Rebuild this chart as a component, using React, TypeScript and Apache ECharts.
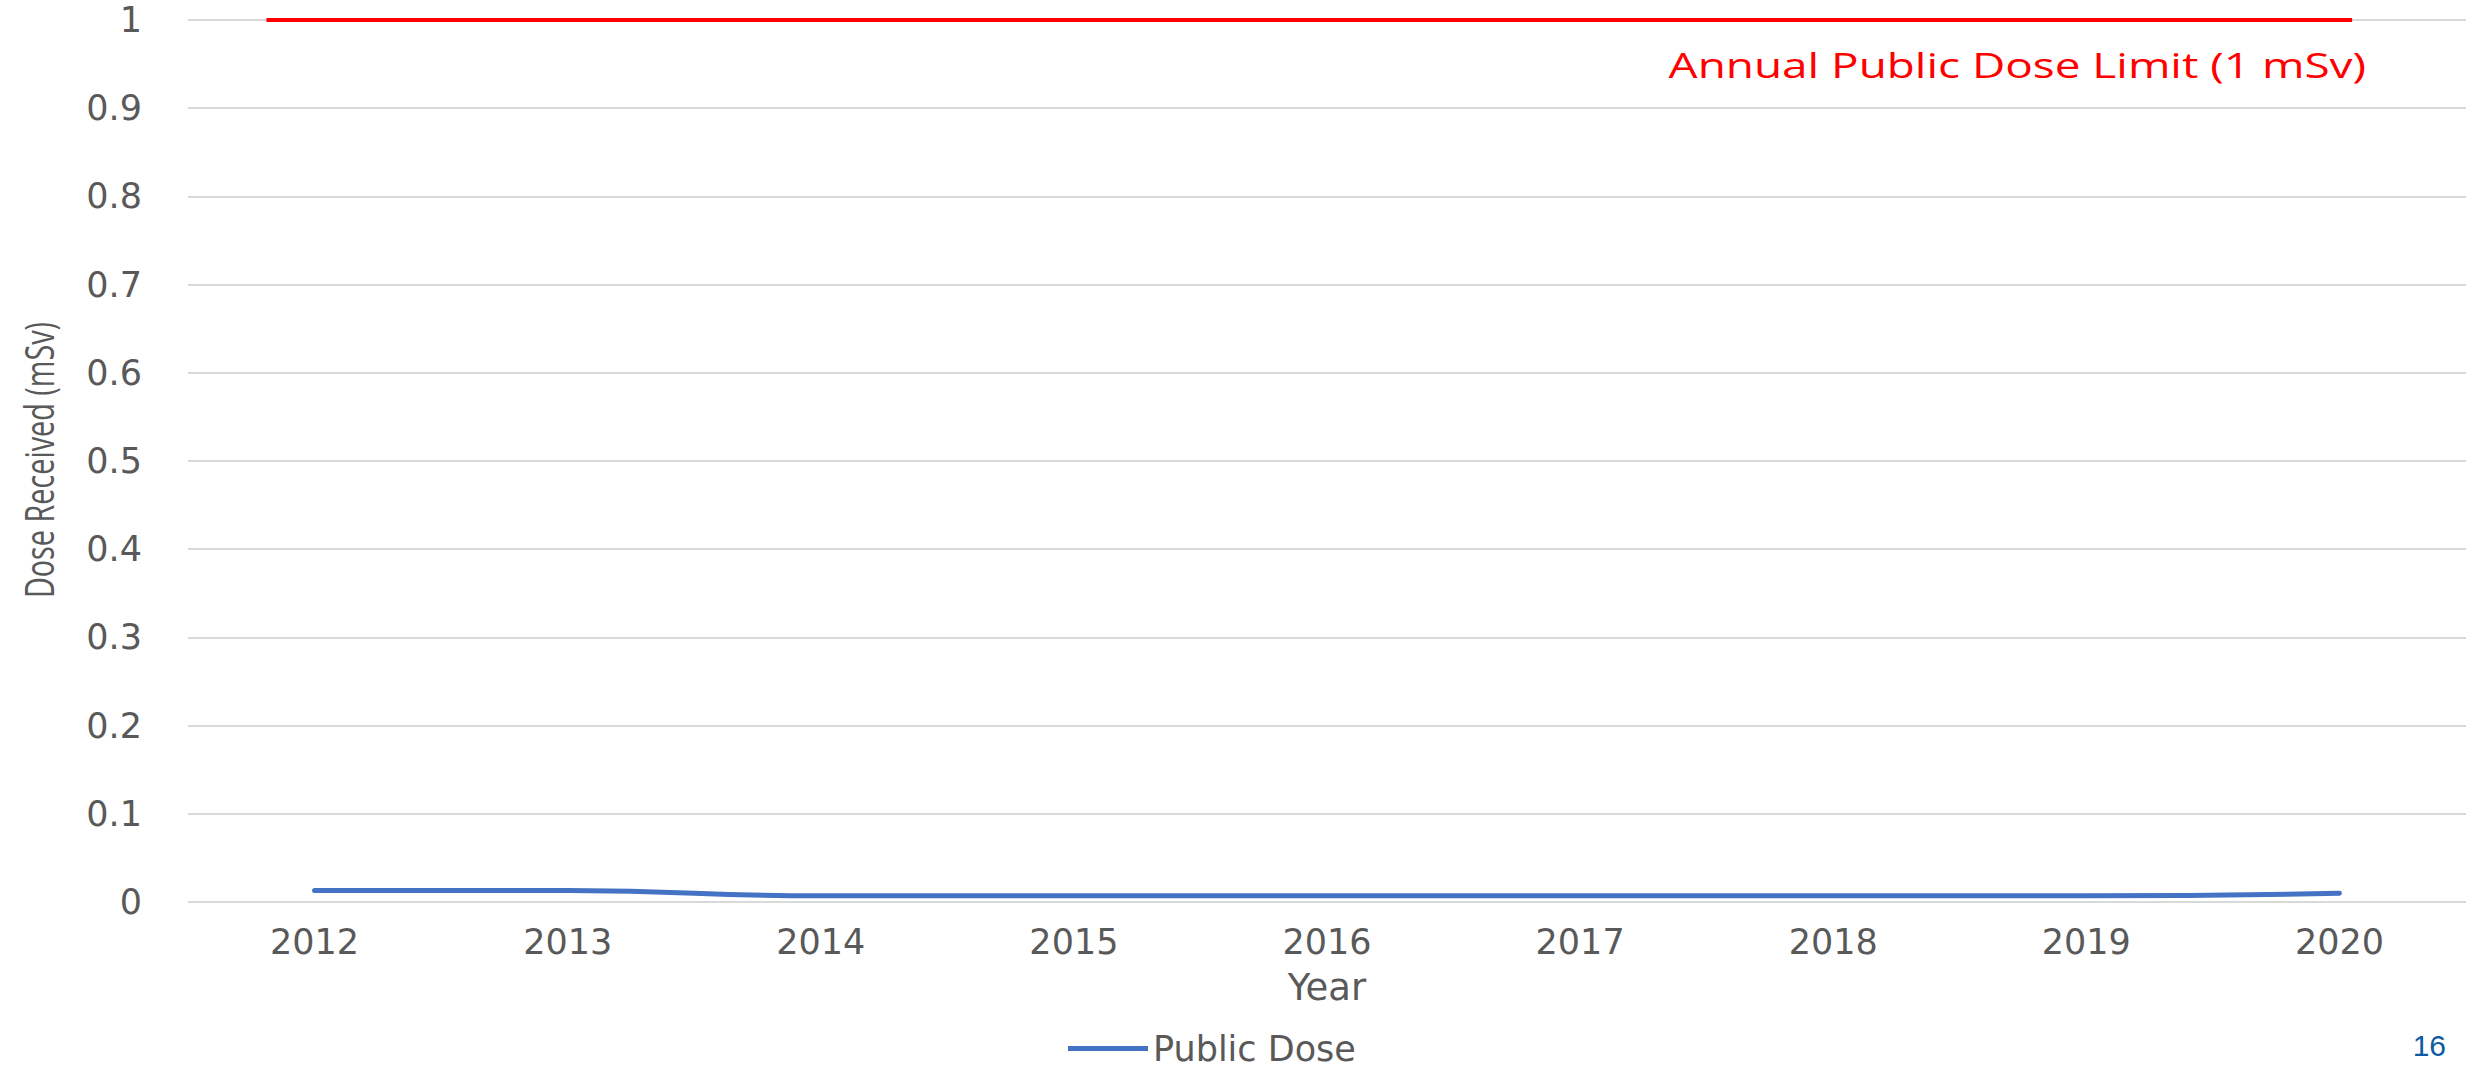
import React, { useEffect, useRef } from "react";
import * as echarts from "echarts";

const years = ["2012", "2013", "2014", "2015", "2016", "2017", "2018", "2019", "2020"];
const publicDose = [0.013, 0.013, 0.007, 0.007, 0.007, 0.007, 0.007, 0.007, 0.01];
const limitX = [-0.19, 8.05];
const limitY = [1, 1];
const limitLabel = "Annual Public Dose Limit (1 mSv)";
const yTitle = "Dose Received (mSv)";
const pageNumber = "16";

export default function App() {
  const ref = useRef<HTMLDivElement>(null);
  useEffect(() => {
    if (!ref.current) return;
    const chart = echarts.init(ref.current, null, { renderer: "svg" });
    const tickFont = "DejaVu Sans";
    chart.setOption({
      animation: false,
      backgroundColor: "#ffffff",
      grid: { left: 188, right: 2, top: 20, bottom: 169, containLabel: false },
      legend: {
        data: ["Public Dose"],
        left: 1068,
        top: 1031,
        icon: "rect",
        itemWidth: 80,
        itemHeight: 5,
        padding: 0,
        textStyle: {
          color: "#595959",
          fontSize: 35,
          lineHeight: 35,
          fontFamily: tickFont,
        },
      },
      xAxis: [
        {
          type: "category",
          data: years,
          boundaryGap: true,
          axisLine: { show: false },
          axisTick: { show: false },
          axisLabel: { color: "#595959", fontSize: 35, fontFamily: tickFont, margin: 22 },
          name: "Year",
          nameLocation: "middle",
          nameGap: 67,
          nameTextStyle: { color: "#595959", fontSize: 37, fontFamily: tickFont },
        },
        {
          type: "value",
          min: -0.5,
          max: 8.5,
          show: false,
        },
      ],
      yAxis: {
        type: "value",
        min: 0,
        max: 1,
        interval: 0.1,
        axisLine: { show: false },
        axisTick: { show: false },
        splitLine: { lineStyle: { color: "#d9d9d9", width: 2 } },
        axisLabel: {
          color: "#595959",
          fontSize: 35,
          fontFamily: tickFont,
          margin: 46,
          formatter: (v: number) => String(Math.round(v * 10) / 10),
        },
      },
      series: [
        {
          name: "Public Dose",
          type: "line",
          data: publicDose,
          smooth: true,
          symbol: "none",
          lineStyle: { color: "#4472C4", width: 5, cap: "round" },
          itemStyle: { color: "#4472C4" },
        },
        {
          name: "Limit",
          type: "line",
          xAxisIndex: 1,
          data: limitX.map((x, i) => [x, limitY[i]]),
          symbol: "none",
          lineStyle: { color: "#FF0000", width: 4 },
          itemStyle: { color: "#FF0000" },
        },
      ],
      graphic: [
        {
          type: "text",
          x: 2366,
          y: 65,
          scaleX: 1.35,
          style: {
            text: limitLabel,
            fill: "#FF0000",
            fontSize: 34,
            fontFamily: "Open Sans",
            align: "right",
            verticalAlign: "middle",
          },
        },
        {
          type: "text",
          x: 39,
          y: 460,
          rotation: Math.PI / 2,
          scaleX: 0.72,
          style: {
            text: yTitle,
            fill: "#595959",
            fontSize: 40,
            fontFamily: "Open Sans",
            align: "center",
            verticalAlign: "middle",
          },
        },
        {
          type: "text",
          x: 2446,
          y: 1045,
          style: {
            text: pageNumber,
            fill: "#0B5AA3",
            fontSize: 30,
            fontFamily: "Liberation Sans",
            align: "right",
            verticalAlign: "middle",
          },
        },
      ],
    });
    return () => chart.dispose();
  }, []);
  return (
    <div
      ref={ref}
      style={{ position: "fixed", left: 0, top: 0, width: 2468, height: 1071, background: "#fff" }}
    />
  );
}
